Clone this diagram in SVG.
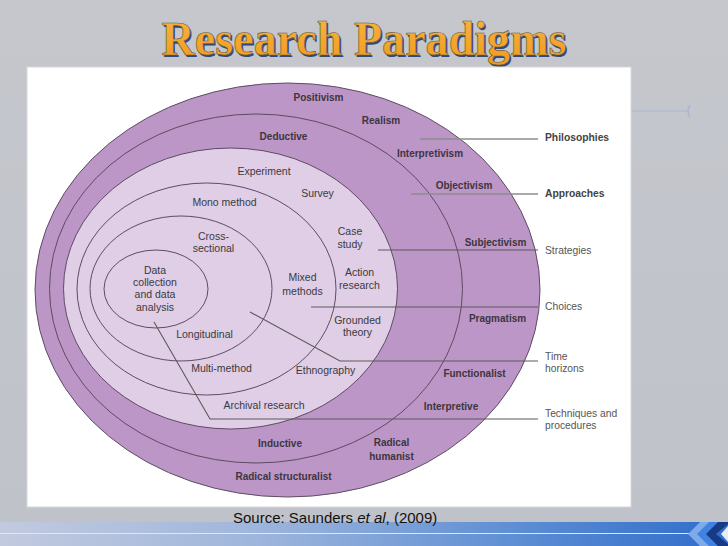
<svg xmlns="http://www.w3.org/2000/svg" width="728" height="546" viewBox="0 0 728 546">
<defs>
<linearGradient id="bg" x1="0" y1="0" x2="0" y2="1">
<stop offset="0" stop-color="#c5c7cd"/>
<stop offset="1" stop-color="#bfc2c9"/>
</linearGradient>
<linearGradient id="band" x1="0" y1="0" x2="1" y2="0">
<stop offset="0" stop-color="#c2cadf"/>
<stop offset="0.35" stop-color="#9fb6dc"/>
<stop offset="0.7" stop-color="#5f8fd4"/>
<stop offset="1" stop-color="#2f6ccb"/>
</linearGradient>
<linearGradient id="title" x1="0" y1="0" x2="0" y2="1">
<stop offset="0" stop-color="#f8b545"/>
<stop offset="1" stop-color="#f09a1c"/>
</linearGradient>
</defs>
<style>
.ring{fill:#bc96c6;stroke:#5e4c63;stroke-width:1}
.inner{fill:#dfcee5;stroke:#5e4c63;stroke-width:1}
.edge{fill:none;stroke:#5e4c63;stroke-width:1}
.b{font-family:"Liberation Sans",Arial,sans-serif;font-size:10px;font-weight:bold;fill:#3d3540;text-anchor:middle}
.n{font-family:"Liberation Sans",Arial,sans-serif;font-size:10.5px;fill:#3a3a3e;text-anchor:middle}
.rb{font-family:"Liberation Sans",Arial,sans-serif;font-size:10.3px;font-weight:bold;fill:#444;}
.rn{font-family:"Liberation Sans",Arial,sans-serif;font-size:10.3px;fill:#555;}
.conn{fill:none;stroke:#5a5a5a;stroke-width:1.1}
.connl{fill:none;stroke:#8c8c8c;stroke-width:1.3}
</style>
<rect width="728" height="546" fill="url(#bg)"/>
<!-- title -->
<g id="title">
<text x="365.5" y="56.5" text-anchor="middle" font-family="'Liberation Serif','DejaVu Serif',serif" font-size="48" font-weight="bold" fill="#2f4a7a" textLength="405" lengthAdjust="spacingAndGlyphs">Research Paradigms</text>
<text x="364" y="55" text-anchor="middle" font-family="'Liberation Serif','DejaVu Serif',serif" font-size="48" font-weight="bold" fill="url(#title)" stroke="#6a5a3a" stroke-width="0.6" textLength="405" lengthAdjust="spacingAndGlyphs">Research Paradigms</text>
</g>
<!-- top-right decoration -->
<line x1="631" y1="111" x2="687" y2="111" stroke="#a8b6cf" stroke-width="1"/>
<path d="M690,105 Q686,111 690,117" fill="none" stroke="#a8b6cf" stroke-width="1.5"/>
<!-- panel -->
<rect x="27" y="67" width="604" height="440" fill="#ffffff" stroke="#d6d7da" stroke-width="1"/>
<!-- rings -->
<g id="philosophies-ring"><ellipse class="ring" cx="287.5" cy="290" rx="252.5" ry="207"/></g>
<g id="approaches-ring"><ellipse class="ring" cx="256" cy="288.5" rx="206.5" ry="174.5"/></g>
<g id="strategies-ring"><ellipse class="inner" cx="230.5" cy="288.5" rx="167" ry="140.5"/></g>
<g id="choices-ring"><ellipse class="edge" cx="206.5" cy="289" rx="129.5" ry="106"/></g>
<g id="time-ring"><ellipse class="edge" cx="181" cy="288.5" rx="91" ry="72.5"/></g>
<g id="core"><ellipse class="edge" cx="156" cy="289" rx="52" ry="39"/></g>
<!-- connectors -->
<g id="connectors">
<path class="connl" d="M420,139 H538"/>
<path class="connl" d="M411,194 H538"/>
<path class="conn" d="M378,250 H538"/>
<path class="conn" d="M311,307 H538"/>
<path class="conn" d="M250,312 L340,361 H538"/>
<path class="conn" d="M154,322 L210,419 H538"/>
</g>
<!-- ring labels -->
<g id="label-positivism"><text class="b" x="318.5" y="101">Positivism</text></g>
<g id="label-realism"><text class="b" x="381" y="124">Realism</text></g>
<g id="label-deductive"><text class="b" x="283.5" y="139.5">Deductive</text></g>
<g id="label-interpretivism"><text class="b" x="430" y="156.5">Interpretivism</text></g>
<g id="label-experiment"><text class="n" x="264" y="175">Experiment</text></g>
<g id="label-objectivism"><text class="b" x="464" y="189">Objectivism</text></g>
<g id="label-survey"><text class="n" x="317.5" y="197">Survey</text></g>
<g id="label-mono"><text class="n" x="224.5" y="205.5">Mono method</text></g>
<g id="label-case"><text class="n" x="350" y="235">Case</text><text class="n" x="350" y="247.5">study</text></g>
<g id="label-subjectivism"><text class="b" x="495.5" y="245.5">Subjectivism</text></g>
<g id="label-cross"><text class="n" x="213.5" y="240">Cross-</text><text class="n" x="213.5" y="252">sectional</text></g>
<g id="label-data"><text class="n" x="155" y="273.5">Data</text><text class="n" x="155" y="286">collection</text><text class="n" x="155" y="298">and data</text><text class="n" x="155" y="310.5">analysis</text></g>
<g id="label-mixed"><text class="n" x="302.5" y="281">Mixed</text><text class="n" x="302.5" y="294.5">methods</text></g>
<g id="label-action"><text class="n" x="359.5" y="275.5">Action</text><text class="n" x="359.5" y="289">research</text></g>
<g id="label-pragmatism"><text class="b" x="497.5" y="321.5">Pragmatism</text></g>
<g id="label-grounded"><text class="n" x="357.5" y="323.5">Grounded</text><text class="n" x="357.5" y="336">theory</text></g>
<g id="label-longitudinal"><text class="n" x="204.5" y="338">Longitudinal</text></g>
<g id="label-multi"><text class="n" x="221.5" y="372">Multi-method</text></g>
<g id="label-ethnography"><text class="n" x="325.5" y="373.5">Ethnography</text></g>
<g id="label-functionalist"><text class="b" x="474.5" y="377">Functionalist</text></g>
<g id="label-archival"><text class="n" x="264" y="408.5">Archival research</text></g>
<g id="label-interpretive"><text class="b" x="451" y="409.5">Interpretive</text></g>
<g id="label-inductive"><text class="b" x="280" y="447">Inductive</text></g>
<g id="label-radical-humanist"><text class="b" x="391.5" y="446">Radical</text><text class="b" x="391.5" y="459.5">humanist</text></g>
<g id="label-radical-structuralist"><text class="b" x="283.5" y="480">Radical structuralist</text></g>
<!-- right labels -->
<g id="label-philosophies"><text class="rb" x="545" y="140.5">Philosophies</text></g>
<g id="label-approaches"><text class="rb" x="545" y="197">Approaches</text></g>
<g id="label-strategies"><text class="rn" x="545" y="253.5">Strategies</text></g>
<g id="label-choices"><text class="rn" x="545" y="310">Choices</text></g>
<g id="label-time"><text class="rn" x="545" y="359.5">Time</text><text class="rn" x="545" y="372">horizons</text></g>
<g id="label-techniques"><text class="rn" x="545" y="416.5">Techniques and</text><text class="rn" x="545" y="429">procedures</text></g>
<!-- bottom band -->
<rect x="0" y="522" width="728" height="24" fill="url(#band)"/>
<line x1="0" y1="533.5" x2="690" y2="533.5" stroke="#dfe7f3" stroke-width="1"/>
<polygon points="700,522 712,522 700,534 712,546 700,546 688,534" fill="#7eaaea"/>
<polygon points="709,522 720,522 708,534 720,546 709,546 697,534" fill="#3f82e2"/>
<polygon points="718,522 728,522 728,524 716,534 728,544 728,546 718,546 706,534" fill="#183a84"/>
<polygon points="728,526 721,534 728,542" fill="#e8ecf2"/>
<text x="233" y="523" font-family="'Liberation Sans',Arial,sans-serif" font-size="15" fill="#111">Source: Saunders <tspan font-style="italic">et al</tspan>, (2009)</text>
</svg>
